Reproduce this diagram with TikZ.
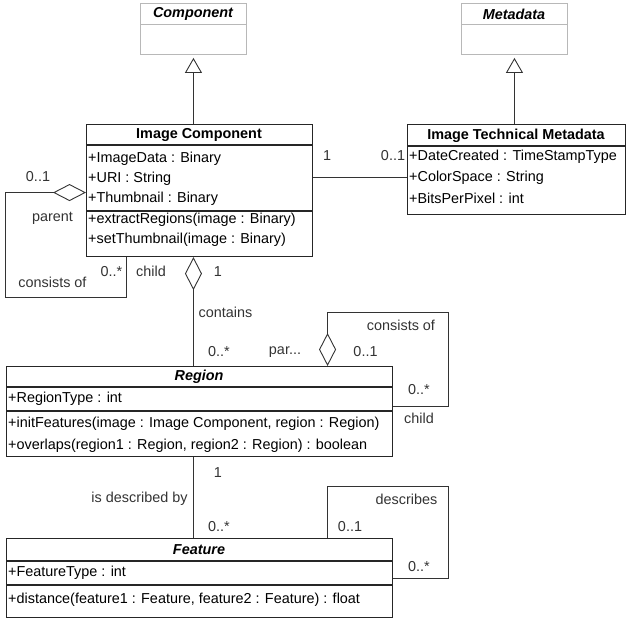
\documentclass[tikz,border=0pt]{standalone}
\usepackage{fontspec}
\setmainfont{Liberation Sans}
\usetikzlibrary{arrows.meta}
\newcommand{\umlsize}{\fontsize{14.4}{17}\selectfont}
\tikzset{
  cls/.style={draw=black!85,line width=1.1pt,rectangle,inner sep=0pt,anchor=north west},
  abscls/.style={draw=black!28,line width=0.9pt,rectangle,inner sep=0pt,anchor=north west},
  csep/.style={draw=black!85,line width=1.1pt},
  asep/.style={draw=black!28,line width=0.9pt},
  ctitle/.style={font=\umlsize\bfseries,inner sep=0pt},
  atitle/.style={font=\umlsize\bfseries\itshape,inner sep=0pt},
  member/.style={anchor=west,inner sep=0pt},
  lbl/.style={inner sep=0pt,text=black!80},
  gen/.style={-{Triangle[open,length=15pt,width=17pt]},draw=black!80,line width=0.9pt,shorten >=3pt},
  agg/.style={{Diamond[open,length=33pt,width=17pt]}-,draw=black!80,line width=0.9pt},
  assoc/.style={draw=black!80,line width=0.9pt},
}
\begin{document}
\begin{tikzpicture}[x=1pt,y=-1pt,font=\umlsize]
\useasboundingbox (0,0) rectangle (626,619);
% --- abstract parents ---
\node[abscls,minimum width=106pt,minimum height=51pt] (comp) at (140,3) {};
\draw[asep] (140,24) -- (246,24);
\node[atitle] (comp-t) at (193,14) {Component};
\node[abscls,minimum width=106pt,minimum height=51pt] (meta) at (461,3) {};
\draw[asep] (461,24) -- (567,24);
\node[atitle] (meta-t) at (514,14) {Metadata};
% --- image component ---
\node[cls,minimum width=226pt,minimum height=132pt] (imgcomp) at (86,124) {};
\draw[csep] (86,145) -- (312,145);
\draw[csep] (86,211) -- (312,211);
\node[ctitle] (imgcomp-t) at (199,135) {Image Component};
\node[member] (imgcomp-a1) at (88,159) {+ImageData : Binary};
\node[member] (imgcomp-a2) at (88,179) {+URI : String};
\node[member] (imgcomp-a3) at (88,199) {+Thumbnail : Binary};
\node[member] (imgcomp-m1) at (88,220) {+extractRegions(image : Binary)};
\node[member] (imgcomp-m2) at (88,240) {+setThumbnail(image : Binary)};
% --- technical metadata ---
\node[cls,minimum width=217.5pt,minimum height=90pt] (techmeta) at (407,124) {};
\draw[csep] (407,146) -- (624.5,146);
\node[ctitle] (techmeta-t) at (516,136) {Image Technical Metadata};
\node[member] (techmeta-a1) at (409,157) {+DateCreated : TimeStampType};
\node[member] (techmeta-a2) at (409,178) {+ColorSpace : String};
\node[member] (techmeta-a3) at (409,198) {+BitsPerPixel : int};
% --- region ---
\node[cls,minimum width=386pt,minimum height=90pt] (region) at (6,366) {};
\draw[csep] (6,387) -- (392,387);
\draw[csep] (6,411) -- (392,411);
\node[atitle] (region-t) at (199,377) {Region};
\node[member] (region-a1) at (8,399) {+RegionType : int};
\node[member] (region-m1) at (8,424) {+initFeatures(image : Image Component, region : Region)};
\node[member] (region-m2) at (8,446) {+overlaps(region1 : Region, region2 : Region) : boolean};
% --- feature ---
\node[cls,minimum width=386pt,minimum height=79pt] (feature) at (6,538) {};
\draw[csep] (6,561) -- (392,561);
\draw[csep] (6,585) -- (392,585);
\node[atitle] (feature-t) at (199,550) {Feature};
\node[member] (feature-a1) at (8,573) {+FeatureType : int};
\node[member] (feature-m1) at (8,600) {+distance(feature1 : Feature, feature2 : Feature) : float};
% generalizations
\draw[gen] (imgcomp.north -| comp.south) -- (comp.south);
\draw[gen] (techmeta.north -| meta.south) -- (meta.south);
% associations
\draw[assoc] ([yshift=-8pt]techmeta.west) -- ([yshift=-8pt]techmeta.west -| imgcomp.east);
\draw[agg] ([yshift=-2pt]imgcomp.west) -- ++(-81,0) -- ++(0,105) -| ([xshift=40pt]imgcomp.south west);
\draw[agg] (imgcomp.south -| comp.south) -- (region.north -| comp.south);
\draw[agg] ([xshift=128pt]region.north) -- ++(0,-54) -- ++(121,0) |- ([yshift=5pt]region.east);
\draw[assoc] (region.south -| comp.south) -- (feature.north -| comp.south);
\draw[assoc] ([xshift=128pt]feature.north) -- ++(0,-52) -- ++(121,0) |- (feature.east);
% multiplicities and roles
\node[lbl] (l-ic1) at (327,156) {1};
\node[lbl] (l-ic2) at (393,156) {0..1};
\node[lbl] (l-ic3) at (38,177) {0..1};
\node[lbl] (l-ic4) at (52.5,218) {parent};
\node[lbl] (l-ic5) at (52.5,282) {consists of};
\node[lbl] (l-ic6) at (111.5,272) {0..*};
\node[lbl] (l-ic7) at (151,271) {child};
\node[lbl] (l-ic8) at (218,272) {1};
\node[lbl] (l-rg1) at (225.5,312) {contains};
\node[lbl] (l-rg2) at (219,352) {0..*};
\node[lbl] (l-rg3) at (285,352) {par...};
\node[lbl] (l-rg4) at (365.5,352) {0..1};
\node[lbl] (l-rg5) at (401,325) {consists of};
\node[lbl] (l-rg6) at (419,390) {0..*};
\node[lbl] (l-rg7) at (419,418) {child};
\node[lbl] (l-ft1) at (218,473) {1};
\node[lbl] (l-ft2) at (139.5,499) {is described by};
\node[lbl] (l-ft3) at (219,527) {0..*};
\node[lbl] (l-ft4) at (406.5,499) {describes};
\node[lbl] (l-ft5) at (350,527) {0..1};
\node[lbl] (l-ft6) at (419,567) {0..*};
\end{tikzpicture}
\end{document}
